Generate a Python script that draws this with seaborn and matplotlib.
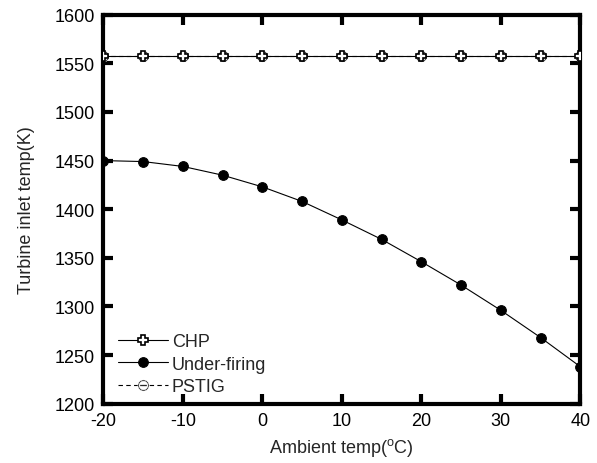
import matplotlib
matplotlib.use("Agg")
import matplotlib.pyplot as plt
import seaborn as sns
import pandas as pd
from matplotlib.ticker import MultipleLocator

ambient = [-20, -15, -10, -5, 0, 5, 10, 15, 20, 25, 30, 35, 40]
chp = [1558] * 13
under_firing = [1450, 1449, 1444, 1435, 1423, 1408, 1389, 1369, 1346, 1322, 1296, 1268, 1238]
pstig = [1558] * 13

sns.set_theme(style="ticks")
plt.rcParams['font.family'] = ['Liberation Sans', 'DejaVu Sans']
plt.rcParams['axes.unicode_minus'] = False

df = pd.DataFrame({"x": ambient, "CHP": chp, "Under-firing": under_firing, "PSTIG": pstig})

fig = plt.figure(figsize=(5.97, 4.64), dpi=100)
ax = fig.add_axes([0.173, 0.128, 0.799, 0.838])

sns.lineplot(data=df, x="x", y="PSTIG", ax=ax, color="black", lw=0.8, linestyle=(0, (4, 3)),
             marker="$\\ominus$", markersize=8, markeredgewidth=0.4, label="PSTIG", zorder=2)
sns.lineplot(data=df, x="x", y="CHP", ax=ax, color="black", lw=0.8,
             marker="P", markersize=6.5, markerfacecolor="white", markeredgecolor="black",
             markeredgewidth=1.2, label="CHP", zorder=3)
sns.lineplot(data=df, x="x", y="Under-firing", ax=ax, color="black", lw=0.8,
             marker="o", markersize=7, markerfacecolor="black", markeredgecolor="black",
             label="Under-firing", zorder=3)

ax.set_xlim(-20, 40)
ax.set_ylim(1200, 1600)
ax.xaxis.set_major_locator(MultipleLocator(10))
ax.yaxis.set_major_locator(MultipleLocator(50))
ax.tick_params(direction="in", length=7, width=3, labelsize=13, pad=6, top=True, right=True,
               labeltop=False, labelright=False, colors="black")
for s in ax.spines.values():
    s.set_linewidth(3)
    s.set_color("black")
ax.set_xlabel("Ambient temp($\\mathregular{^o}$C)", fontsize=13, labelpad=5)
ax.set_ylabel("Turbine inlet temp(K)", fontsize=13, labelpad=14)

handles, labels = ax.get_legend_handles_labels()
order = [labels.index("CHP"), labels.index("Under-firing"), labels.index("PSTIG")]
ax.legend([handles[i] for i in order], [labels[i] for i in order], loc="lower left",
          frameon=False, fontsize=13, handlelength=2.8, handletextpad=0.2,
          labelspacing=0.3, borderaxespad=0.4, bbox_to_anchor=(0.0, -0.015))

fig.savefig("out.png", dpi=100)
